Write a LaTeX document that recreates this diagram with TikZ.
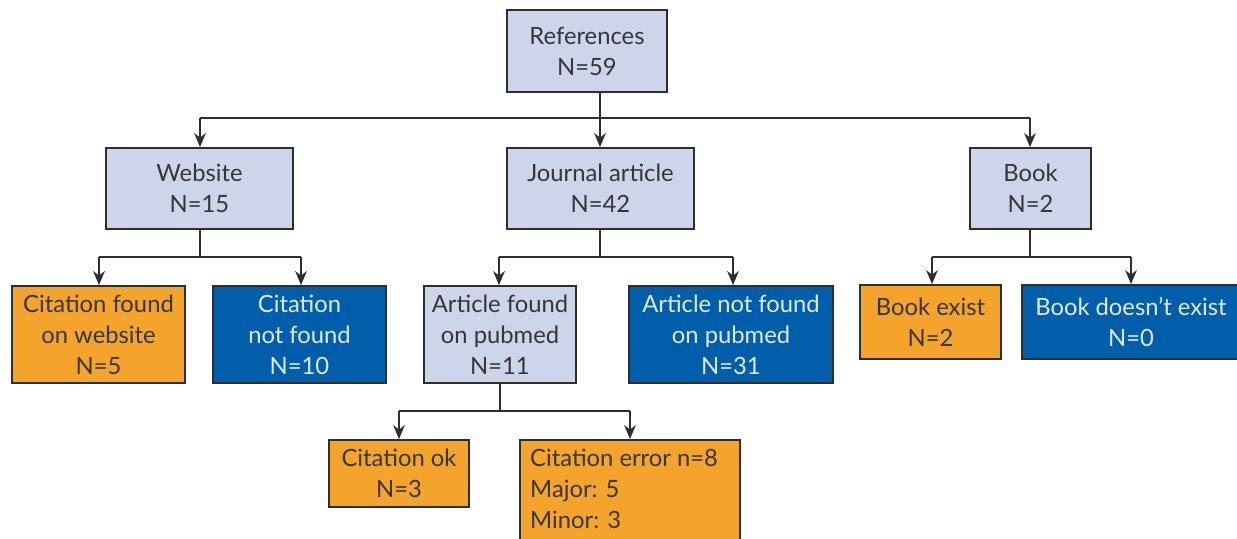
\documentclass[tikz,border=0pt]{standalone}
\usepackage{fontspec}
\setmainfont{Lato}
\usetikzlibrary{arrows.meta}
\definecolor{lblue}{HTML}{CCD5E9}
\definecolor{orng}{HTML}{F4A42B}
\definecolor{dblue}{HTML}{005EAB}
\definecolor{edge}{HTML}{2E2E2E}
\definecolor{txt}{HTML}{363636}
\definecolor{wtxt}{HTML}{E2EAF4}
\tikzset{
  box/.style={draw=edge, line width=1.5pt, inner sep=0pt, align=center,
    font=\fontsize{20.3pt}{26.5pt}\selectfont, text=txt},
  sz/.style 2 args={minimum width=#1*0.03cm, minimum height=#2*0.03cm},
  lb/.style={box, fill=lblue},
  ob/.style={box, fill=orng},
  bb/.style={box, fill=dblue, text=wtxt},
  conn/.style={draw=edge, line width=1.3pt},
  arr/.style={conn, -{Stealth[length=12pt, width=10pt]}},
}
\begin{document}
\begin{tikzpicture}[x=0.03cm, y=-0.03cm]
\useasboundingbox (0,0) rectangle (1237,539);
\clip (0,0) rectangle (1237,539);
\node[lb, sz={160}{82}] (ref) at (587,51) {References\\N=59};
\node[lb, sz={187}{81}] (web) at (199.5,188.5) {Website\\N=15};
\node[lb, sz={187}{81}] (jour) at (600.5,188.5) {Journal article\\N=42};
\node[lb, sz={121}{81}] (book) at (1030.5,188.5) {Book\\N=2};
\node[ob, sz={173}{97}] (cfw) at (98.5,334.5) {Citation found\\on website\\N=5};
\node[bb, sz={173}{97}] (cnf) at (299.5,334.5) {Citation\\not found\\N=10};
\node[lb, sz={152}{97}] (afp) at (500,334.5) {Article found\\on pubmed\\N=11};
\node[bb, sz={204}{97}] (anf) at (731,334.5) {Article not found\\on pubmed\\N=31};
\node[ob, sz={141}{74}] (bex) at (930.5,322) {Book exist\\N=2};
\node[bb, sz={218}{74}] (bnx) at (1131,322) {Book doesn't exist\\N=0};
\node[ob, sz={140}{67}] (cok) at (399,473.5) {Citation ok\\N=3};
\node[ob, sz={220}{120}] (cerr) at (630,500) {};
\node[anchor=north west, align=left, inner sep=0pt, text=txt,
  font=\fontsize{20.3pt}{26.5pt}\selectfont] (cerrt) at (530,449)
  {Citation error n=8\\Major: 5\\Minor: 3};
% connectors
\coordinate (j0) at (600,118);
\draw[conn] (ref.south -| j0) -- (j0);
\draw[arr] (200,118) coordinate (h1) -- (web.north -| h1);
\draw[conn] (h1) -- (1030,118) coordinate (h2);
\draw[arr] (j0) -- (jour.north -| j0);
\draw[arr] (h2) -- (book.north -| h2);
% website
\coordinate (w0) at (200,257);
\coordinate (w1) at (99,257);
\coordinate (w2) at (301,257);
\draw[conn] (web.south -| w0) -- (w0);
\draw[conn] (w1) -- (w2);
\draw[arr] (w1) -- (cfw.north -| w1);
\draw[arr] (w2) -- (cnf.north -| w2);
% journal
\coordinate (a0) at (600,257);
\coordinate (a1) at (499,257);
\coordinate (a2) at (733,257);
\draw[conn] (jour.south -| a0) -- (a0);
\draw[conn] (a1) -- (a2);
\draw[arr] (a1) -- (afp.north -| a1);
\draw[arr] (a2) -- (anf.north -| a2);
% book
\coordinate (b0) at (1030,257);
\coordinate (b1) at (932,257);
\coordinate (b2) at (1131,257);
\draw[conn] (book.south -| b0) -- (b0);
\draw[conn] (b1) -- (b2);
\draw[arr] (b1) -- (bex.north -| b1);
\draw[arr] (b2) -- (bnx.north -| b2);
% pubmed
\coordinate (p0) at (500,411);
\coordinate (p1) at (399,411);
\coordinate (p2) at (630,411);
\draw[conn] (afp.south -| p0) -- (p0);
\draw[conn] (p1) -- (p2);
\draw[arr] (p1) -- (cok.north -| p1);
\draw[arr] (p2) -- (cerr.north -| p2);
\end{tikzpicture}
\end{document}
